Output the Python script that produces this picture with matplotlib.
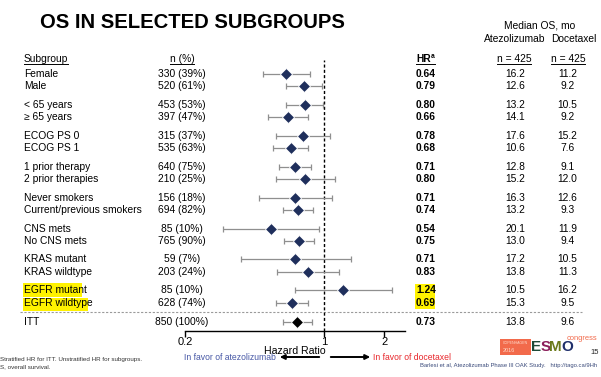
import matplotlib
matplotlib.use("Agg")
import matplotlib.pyplot as plt
from matplotlib.patches import Rectangle

# ---------------- data ----------------
subgroups = ["Female", "Male", "< 65 years", "\u2265 65 years", "ECOG PS 0", "ECOG PS 1",
             "1 prior therapy", "2 prior therapies", "Never smokers", "Current/previous smokers",
             "CNS mets", "No CNS mets", "KRAS mutant", "KRAS wildtype", "EGFR mutant",
             "EGFR wildtype", "ITT"]
n_pct = ["330 (39%)", "520 (61%)", "453 (53%)", "397 (47%)", "315 (37%)", "535 (63%)",
         "640 (75%)", "210 (25%)", "156 (18%)", "694 (82%)", "85 (10%)", "765 (90%)",
         "59 (7%)", "203 (24%)", "85 (10%)", "628 (74%)", "850 (100%)"]
hr = [0.64, 0.79, 0.80, 0.66, 0.78, 0.68, 0.71, 0.80, 0.71, 0.74, 0.54, 0.75,
      0.71, 0.83, 1.24, 0.69, 0.73]
ci_low = [0.49, 0.64, 0.64, 0.52, 0.57, 0.55, 0.59, 0.57, 0.47, 0.62, 0.31, 0.63,
          0.38, 0.58, 0.71, 0.57, 0.62]
ci_high = [0.85, 0.97, 0.99, 0.83, 1.07, 0.83, 0.86, 1.13, 1.09, 0.88, 0.94, 0.89,
           1.36, 1.18, 2.18, 0.83, 0.87]
os_atezo = [16.2, 12.6, 13.2, 14.1, 17.6, 10.6, 12.8, 15.2, 16.3, 13.2, 20.1, 13.0,
            17.2, 13.8, 10.5, 15.3, 13.8]
os_doce = [11.2, 9.2, 10.5, 9.2, 15.2, 7.6, 9.1, 12.0, 12.6, 9.3, 11.9, 9.4,
           10.5, 11.3, 16.2, 9.5, 9.6]
xticks = [0.2, 1, 2]
xticklabels = ["0.2", "1", "2"]

# ---------------- layout ----------------
W, H = 601, 377
FONT = "Liberation Sans"
plt.rcParams["font.family"] = [FONT, "DejaVu Sans"]
fig = plt.figure(figsize=(W / 100, H / 100), dpi=100)

bg = fig.add_axes([0, 0, 1, 1])
bg.set_xlim(0, W)
bg.set_ylim(H, 0)
bg.axis("off")

rows_y = []
for i in range(len(subgroups) - 1):
    g, k = divmod(i, 2)
    rows_y.append(74 + g * 30.9 + k * 12.4)
rows_y.append(322)

fs = 7.4
navy = "#1f2f5c"

ax_left, ax_right = 185, 405
ax_top, ax_bot = 60, 331
ax = fig.add_axes([ax_left / W, 1 - ax_bot / H, (ax_right - ax_left) / W, (ax_bot - ax_top) / H])
ax.set_xscale("log")
ax.set_xlim(0.2, 10 ** ((ax_right - 324) / 200.0))
ax.set_ylim(ax_bot, ax_top)
ax.patch.set_alpha(0)
for s in ["top", "left", "right"]:
    ax.spines[s].set_visible(False)
ax.spines["bottom"].set_linewidth(1.0)
ax.set_yticks([])
ax.set_xticks(xticks)
ax.set_xticklabels(xticklabels, fontsize=8)
ax.xaxis.set_minor_locator(matplotlib.ticker.NullLocator())
ax.tick_params(axis="x", length=4, width=1, pad=0.5)
ax.axvline(1, color="black", lw=1.0, ls=(0, (2.2, 1.6)), zorder=1)
ax.set_xlabel("Hazard Ratio", fontsize=7.6, labelpad=-1.2)

for i, name in enumerate(subgroups):
    y = rows_y[i]
    ax.errorbar([hr[i]], [y], xerr=[[hr[i] - ci_low[i]], [ci_high[i] - hr[i]]],
                fmt="none", ecolor="#8f8f8f", elinewidth=0.9, capsize=2, capthick=0.9, zorder=2)
    ax.plot([hr[i]], [y], marker="D", ms=6.4, color="black" if name == "ITT" else navy,
            mec="white", mew=0.6, zorder=3)

# title
bg.text(40, 22, "OS IN SELECTED SUBGROUPS", fontsize=14.6, fontweight="bold", va="center", ha="left")

bg.text(540, 25, "Median OS, mo", fontsize=fs, ha="center", va="center")
bg.text(515, 39, "Atezolizumab", fontsize=fs, ha="center", va="center")
bg.text(574, 39, "Docetaxel", fontsize=fs, ha="center", va="center")

# highlight rectangles
bg.add_patch(Rectangle((23, 283), 59, 14, color="#fff200", lw=0, zorder=0))
bg.add_patch(Rectangle((23, 297.5), 65, 13.5, color="#fff200", lw=0, zorder=0))
bg.add_patch(Rectangle((415, 284), 20, 25, color="#fff200", lw=0, zorder=0))

hdr_texts = []
hdr_texts.append(bg.text(24, 59, "Subgroup", fontsize=fs, ha="left", va="center"))
hdr_texts.append(bg.text(182, 59, "n (%)", fontsize=fs, ha="center", va="center"))
hr_t = bg.text(416, 59, "HR", fontsize=fs, ha="left", va="center", fontweight="bold")
hdr_texts.append(bg.text(514, 59, "n = 425", fontsize=fs, ha="center", va="center"))
hdr_texts.append(bg.text(568, 59, "n = 425", fontsize=fs, ha="center", va="center"))

for i, name in enumerate(subgroups):
    y = rows_y[i]
    bg.text(24, y, name, fontsize=fs, ha="left", va="center")
    bg.text(182, y, n_pct[i], fontsize=fs, ha="center", va="center")
    bg.text(416, y, f"{hr[i]:.2f}", fontsize=fs, ha="left", va="center", fontweight="bold")
    bg.text(515, y, f"{os_atezo[i]:.1f}", fontsize=fs, ha="center", va="center")
    bg.text(567.5, y, f"{os_doce[i]:.1f}", fontsize=fs, ha="center", va="center")

bg.plot([20, 582], [311.7, 311.7], color="#9a9a9a", lw=0.8, ls=(0, (2, 1.5)), zorder=0.5)

# underline headers
fig.canvas.draw()
r = fig.canvas.get_renderer()
inv = bg.transData.inverted()
hb = hr_t.get_window_extent(r)
(hx0, hy0), (hx1, hy1) = inv.transform([[hb.x0, hb.y0], [hb.x1, hb.y1]])
bg.text(hx1 + 0.5, 56.5, "a", fontsize=4.8, ha="left", va="center", fontweight="bold")
for t in hdr_texts + [hr_t]:
    bb = t.get_window_extent(r)
    (x0, y0), (x1, y1) = inv.transform([[bb.x0, bb.y0], [bb.x1, bb.y1]])
    if t is hr_t:
        x1 += 4
    bg.plot([x0, x1], [y0 - 0.5, y0 - 0.5], color="black", lw=0.7)

# direction arrows
bg.text(276, 357, "In favor of atezolizumab", fontsize=6.2, color="#4657a5", ha="right", va="center")
bg.annotate("", xy=(277, 357), xytext=(322, 357),
            arrowprops=dict(arrowstyle="-|>", color="black", lw=1.4, mutation_scale=7))
bg.annotate("", xy=(373, 357), xytext=(328, 357),
            arrowprops=dict(arrowstyle="-|>", color="black", lw=1.4, mutation_scale=7))
bg.text(373, 357, "In favor of docetaxel", fontsize=6.2, color="#e8262b", ha="left", va="center")

# footnotes
bg.text(0.5, 359, "Stratified HR for ITT. Unstratified HR for subgroups.", fontsize=4.5,
        ha="left", va="center", color="#333333")
bg.text(0.5, 367, "S, overall survival.", fontsize=4.5, ha="left", va="center", color="#333333")
bg.text(420, 366, "Barlesi et al, Atezolizumab Phase III OAK Study.   http://tago.ca/9Hh",
        fontsize=4.2, ha="left", va="center", color="#3a4a7a")

# ESMO logo (approximation)
bg.add_patch(Rectangle((500, 339), 31, 15.5, color="#f26a4b", lw=0, zorder=1))
bg.text(515.5, 343.5, "COPENHAGEN", fontsize=2.6, color="#ffd8c8", ha="center", va="center")
bg.text(503, 350, "2016", fontsize=4, color="#ffd8c8", ha="left", va="center")
for ch, x, c in [("E", 531, "#1c4a37"), ("S", 540.5, "#8b1e5a"), ("M", 549.5, "#6b7a1a"), ("O", 561, "#1f2f6b")]:
    bg.text(x, 347, ch, fontsize=11, fontweight="bold", color=c, ha="left", va="center")
bg.text(567, 338, "congress", fontsize=5.4, color="#f26a4b", ha="left", va="center")
bg.text(590, 353, "15", fontsize=5.5, ha="left", va="center", color="#222222")

fig.savefig("out.png", dpi=100)
